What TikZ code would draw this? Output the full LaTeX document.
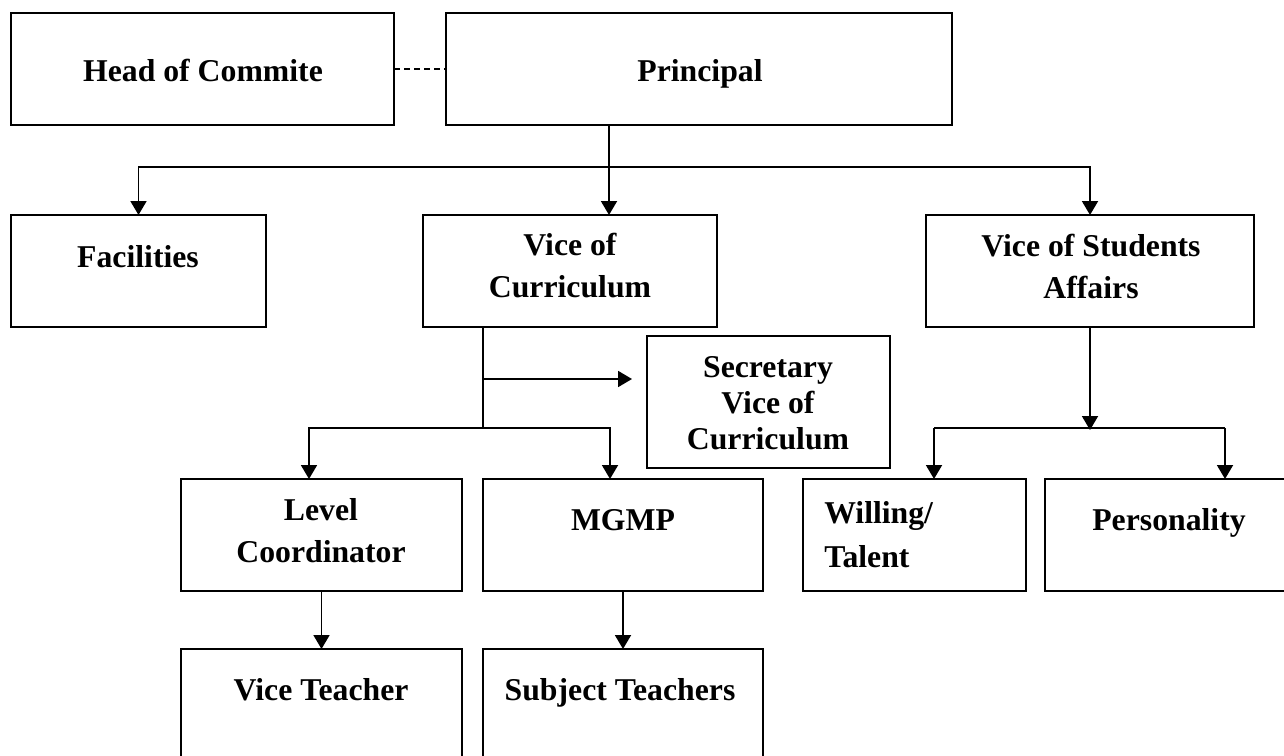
\documentclass[tikz,border=0pt]{standalone}
\usepackage{fontspec}
\setmainfont{Liberation Serif}
\usetikzlibrary{arrows.meta}

\begin{document}
\begin{tikzpicture}[x=0.75pt,y=0.75pt,yscale=-1,xscale=1,
    box/.style={draw, line width=1.1pt, rectangle, inner sep=0pt, outer sep=0pt, minimum height=84pt},
    conn/.style={line width=1.4pt},
    arr/.style={line width=1.4pt, -{Triangle[width=12pt,length=10.5pt]}},
    dashlink/.style={line width=1pt, dash pattern=on 4.5pt off 3pt},
    lbl/.style={inner sep=0.75pt, font=\fontsize{23.8}{31.5}\selectfont\bfseries, align=center}]
        %set diagram size 1284 x 756
        \fill [white] (0,0) rectangle (1284,756);
        \useasboundingbox (0,0) rectangle (1284,756);

        %Shape: Rectangle [head]
        \node [box, minimum width=287.25pt] (head) at (202.5,69) {};
        %Shape: Rectangle [principal]
        \node [box, minimum width=379.5pt] (prin) at (699,69) {};
        %Shape: Rectangle [facilities]
        \node [box, minimum width=191.25pt] (fac) at (138.5,271) {};
        %Shape: Rectangle [vice of curriculum]
        \node [box, minimum width=220.5pt] (voc) at (570,271) {};
        %Shape: Rectangle [vice of students affairs]
        \node [box, minimum width=246pt] (vosa) at (1090,271) {};
        %Shape: Rectangle [secretary]
        \node [box, minimum width=182.25pt, minimum height=99pt] (sec) at (768.5,402) {};
        %Shape: Rectangle [level coordinator]
        \node [box, minimum width=210.75pt] (lc) at (321.5,535) {};
        %Shape: Rectangle [mgmp]
        \node [box, minimum width=210pt] (mgmp) at (623,535) {};
        %Shape: Rectangle [willing]
        \node [box, minimum width=167.25pt] (will) at (914.5,535) {};
        %Shape: Rectangle [personality]
        \node [box, minimum width=191.25pt] (pers) at (1172.5,535) {};
        %Shape: Rectangle [vice teacher]
        \node [box, minimum width=210.75pt, minimum height=90.75pt] (vt) at (321.5,709.5) {};
        %Shape: Rectangle [subject teachers]
        \node [box, minimum width=210pt, minimum height=90.75pt] (st) at (623,709.5) {};

        %Branch points
        \coordinate (b1) at (609,167);
        \coordinate (b2) at (483,428);
        \coordinate (b2l) at (309,428);
        \coordinate (b2r) at (610,428);
        \coordinate (b3) at (483,379);
        \coordinate (secin) at (632,379);
        \coordinate (b4) at (1090,430);
        \coordinate (b4l) at (934,428);
        \coordinate (b4r) at (1225,428);

        %Dashed Lines
        \draw [dashlink] (head.east) -- (prin.west);
        %Straight Lines
        \draw [conn] (prin.south -| b1) -- (b1);
        \draw [arr] (b1) -- (voc.north -| b1);
        \draw [arr] (b1) -| (fac.north);
        \draw [arr] (b1) -| (vosa.north);
        %Straight Lines
        \draw [conn] (voc.south -| b2) -- (b2);
        \draw [arr] (b3) -- (secin);
        \draw [arr] (b2) -| (b2l |- lc.north);
        \draw [arr] (b2) -| (b2r |- mgmp.north);
        \draw [arr] (lc.south) -- (vt.north);
        \draw [arr] (mgmp.south) -- (st.north);
        %Straight Lines
        \draw [conn] (b4l) -- (b4r);
        \draw [arr] (vosa.south) -- (b4);
        \draw [arr] (b4l) -- (b4l |- will.north);
        \draw [arr] (b4r) -- (b4r |- pers.north);

        % Text Node
        \node [lbl, anchor=base] (thead) at (203,82) {Head of Commite};
        % Text Node
        \node [lbl, anchor=base] (tprin) at (700,82) {Principal};
        % Text Node
        \node [lbl, anchor=base] (tfac) at (138,267) {Facilities};
        % Text Node
        \node [lbl] (tvoc) at (570,266) {Vice of\\Curriculum};
        % Text Node
        \node [lbl] (tvosa) at (1091,266) {Vice of Students\\Affairs};
        % Text Node
        \node [lbl, font=\fontsize{23.8}{27}\selectfont\bfseries] (tsec) at (768,403) {Secretary\\Vice of\\Curriculum};
        % Text Node
        \node [lbl] (tlc) at (321,531) {Level\\Coordinator};
        % Text Node
        \node [lbl, anchor=base] (tmgmp) at (623,530) {MGMP};
        % Text Node
        \node [lbl, anchor=west, align=left, font=\fontsize{23.8}{33}\selectfont\bfseries] (twill) at (823,535) {Willing/\\Talent};
        % Text Node
        \node [lbl, anchor=base] (tpers) at (1169,530) {Personality};
        % Text Node
        \node [lbl, anchor=base] (tvt) at (321,700) {Vice Teacher};
        % Text Node
        \node [lbl, anchor=base] (tst) at (620,700) {Subject Teachers};
\end{tikzpicture}
\end{document}
